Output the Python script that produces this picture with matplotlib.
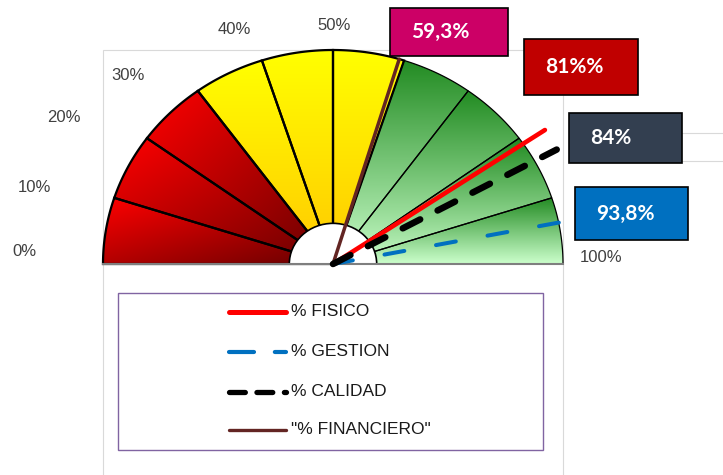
import numpy as np
import matplotlib.pyplot as plt
from matplotlib.patches import Polygon, Rectangle, Wedge
from matplotlib.colors import to_rgb

# gauge bands, in percent
band_edges = [0, 10, 20, 30, 40, 50, 60, 70, 80, 90, 100]
band_zone = ['red', 'red', 'red', 'yellow', 'yellow', 'yellow',
             'green', 'green', 'green', 'green']

# needles
series = ['% FISICO', '% GESTION', '% CALIDAD', '"% FINANCIERO"']
values = [81.0, 93.8, 84.0, 59.3]
value_labels = ['81%%', '93,8%', '84%', '59,3%']

scale_labels = ['0%', '10%', '20%', '30%', '40%', '50%', '100%']

# ---- layout / styles ----
W, H = 723, 475
CX, CY, RX, RY = 333, 264, 230, 214   # gauge centre and radii in pixels


def d(px, py):
    # pixel position -> data coords
    return (px - CX) / RX, (CY - py) / RY


def ang(p):
    return np.pi * (1 - p / 100.0)


zone_cols = {'red': ('#FF0000', '#660000'),
             'yellow': ('#FFFF00', '#FFC800'),
             'green': ('#228B22', '#CCFFCC')}

needle_style = [
    dict(color='#FF0000', lw=3.3, ls='-', L=1.114, z=8),
    dict(color='#0070C0', lw=2.9, ls=(0, (5.0, 8.0)), L=1.11, z=7),
    dict(color='#000000', lw=4.7, ls=(0, (3.0, 3.0)), L=1.11, z=9),
    dict(color='#632523', lw=2.5, ls='-', L=1.0, z=6),
]
box_rects = [(524, 39, 638, 95), (575, 187, 688, 240),
             (569, 113, 682, 163), (390, 8, 508, 56)]
box_cols = ['#C00000', '#0070C0', '#333F50', '#CC0066']
scale_pos = [(24, 252), (34, 188), (64, 117), (128, 75),
             (234, 30), (334, 26), (601, 257)]
legend_rows = [312, 352, 392, 430]

fig = plt.figure(figsize=(W / 100, H / 100), dpi=100)
ax = fig.add_axes([0, 0, 1, 1])
ax.axis('off')

# plot area border
x0, y0 = d(103, 480)
x1, y1 = d(563, 50)
ax.add_patch(Rectangle((x0, y0), x1 - x0, y1 - y0, fc='none', ec='#D9D9D9', lw=0.8, zorder=1))
for py in (133, 161):
    ax.plot([d(682, py)[0], d(723, py)[0]], [d(682, py)[1]] * 2, color='#D9D9D9', lw=0.8, zorder=1)

# bands with gradient fill
n = 200
u, v = np.meshgrid(np.linspace(0, 1, n), np.linspace(0, 1, n))
for p0, p1, z in zip(band_edges[:-1], band_edges[1:], band_zone):
    t = np.linspace(ang(p0), ang(p1), 80)
    pts = np.vstack([[0, 0], np.column_stack([np.cos(t), np.sin(t)])])
    poly = Polygon(pts, closed=True, fc='none', ec='black',
                   lw=1.6 if z != 'green' else 0.9, zorder=3)
    ax.add_patch(poly)
    c0 = np.array(to_rgb(zone_cols[z][0]))
    c1 = np.array(to_rgb(zone_cols[z][1]))
    g = 0.5 * (u + v) if z == 'red' else v
    img = c0 + g[..., None] * (c1 - c0)
    xmn, ymn = pts.min(0)
    xmx, ymx = pts.max(0)
    im = ax.imshow(img, extent=[xmn, xmx, ymn, ymx], origin='upper', aspect='auto',
                   interpolation='bilinear', zorder=2)
    im.set_clip_path(poly)

ax.add_patch(Wedge((0, 0), 0.19, 0, 180, fc='white', ec='black', lw=1.2, zorder=4))
ax.plot([-1, 1], [0, 0], color='#7F7F7F', lw=1.5, zorder=5)

# needles
clip = Rectangle((-1, -0.5), 2.0, 1.5, transform=ax.transData)
for val, st in zip(values, needle_style):
    a = ang(val)
    ln, = ax.plot([0, st['L'] * np.cos(a)], [0, st['L'] * np.sin(a)], color=st['color'],
                  lw=st['lw'], ls=st['ls'], solid_capstyle='round',
                  dash_capstyle='round', zorder=st['z'])
    ln.set_clip_path(clip)

# value boxes
for lab, (bx0, by0, bx1, by1), col in zip(value_labels, box_rects, box_cols):
    ax0, ay0 = d(bx0, by1)
    ax1, ay1 = d(bx1, by0)
    ax.add_patch(Rectangle((ax0, ay0), ax1 - ax0, ay1 - ay0, fc=col, ec='black', lw=1.2, zorder=10))
    tx, ty = d(bx0 + 21, (by0 + by1) / 2)
    ax.text(tx, ty, lab, color='white', fontsize=15, fontweight='bold', family='Lato',
            ha='left', va='center', zorder=11)

# scale labels
for lab, (px, py) in zip(scale_labels, scale_pos):
    tx, ty = d(px, py)
    ax.text(tx, ty, lab, fontsize=12, color='#404040', family='Liberation Sans',
            ha='center', va='center', zorder=11)

# legend
lx0, ly0 = d(118, 450)
lx1, ly1 = d(543, 293)
ax.add_patch(Rectangle((lx0, ly0), lx1 - lx0, ly1 - ly0, fc='white', ec='#8064A2', lw=1.0, zorder=10))
leg_ls = ['-', (0, (6.0, 5.0)), (0, (3.0, 2.2)), '-']
leg_lw = [3.6, 3.0, 3.8, 2.4]
for name, st, ls, lw, py in zip(series, needle_style, leg_ls, leg_lw, legend_rows):
    sx0, sy = d(229, py)
    sx1, _ = d(286, py)
    ax.plot([sx0, sx1], [sy, sy], color=st['color'], lw=lw, ls=ls, solid_capstyle='round',
            dash_capstyle='round', zorder=11)
    tx, ty = d(291, py)
    ax.text(tx, ty, name, fontsize=12.5, color='#1A1A1A', family='Liberation Sans',
            ha='left', va='center', zorder=11)

ax.set_xlim(-CX / RX, (W - CX) / RX)
ax.set_ylim((CY - H) / RY, CY / RY)

fig.savefig('out.png', dpi=100)
